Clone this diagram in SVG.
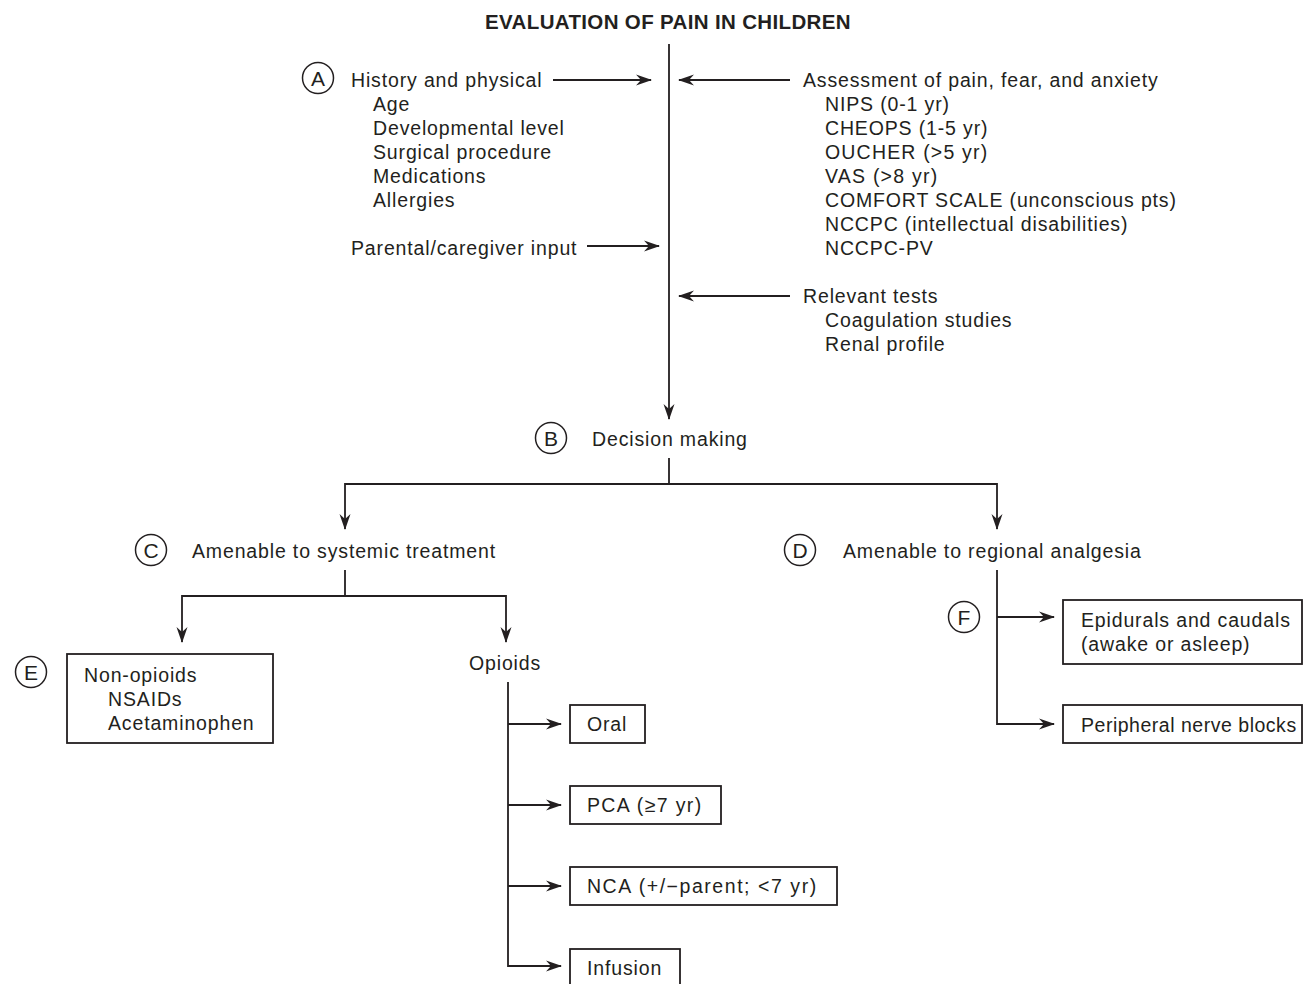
<svg xmlns="http://www.w3.org/2000/svg" width="1304" height="984" viewBox="0 0 1304 984">
  <style>
    text { font-family: "Liberation Sans", Arial, sans-serif; font-size: 19.5px; letter-spacing: 0.85px; fill: #231f20; }
    .title { font-weight: bold; font-size: 20.5px; letter-spacing: 0.35px; text-anchor: middle; }
    .badge circle { fill: none; stroke: #231f20; stroke-width: 1.5; }
    .badge text { text-anchor: middle; font-size: 21px; letter-spacing: 0; }
    .box { fill: #fff; stroke: #231f20; stroke-width: 1.8; }
    .wire { fill: none; stroke: #231f20; stroke-width: 1.8; }
    .arrow { marker-end: url(#head); }
  </style>
  <defs>
    <marker id="head" markerUnits="userSpaceOnUse" markerWidth="16" markerHeight="12" viewBox="0 0 16 12" refX="15" refY="6" orient="auto">
      <path d="M0,0.5 L16,6 L0,11.5 L5,6 z" fill="#231f20"/>
    </marker>
  </defs>

  <text class="title" x="668" y="29">EVALUATION OF PAIN IN CHILDREN</text>

  <g id="connectors">
    <!-- main evaluation spine -->
    <line class="wire arrow" x1="669" y1="44" x2="669" y2="419"/>
    <line class="wire arrow" x1="553" y1="80" x2="651" y2="80"/>
    <line class="wire arrow" x1="587" y1="246" x2="659" y2="246"/>
    <line class="wire arrow" x1="790" y1="80" x2="679" y2="80"/>
    <line class="wire arrow" x1="790" y1="296" x2="679" y2="296"/>
    <!-- decision split -->
    <polyline class="wire" points="669,458 669,484"/>
    <polyline class="wire arrow" points="669,484 345,484 345,529"/>
    <polyline class="wire arrow" points="669,484 997,484 997,529"/>
    <!-- systemic split -->
    <polyline class="wire" points="345,570 345,596"/>
    <polyline class="wire arrow" points="345,596 182,596 182,642"/>
    <polyline class="wire arrow" points="345,596 506,596 506,642"/>
    <!-- opioid routes -->
    <polyline class="wire arrow" points="508,682 508,966 561,966"/>
    <line class="wire arrow" x1="508" y1="724" x2="561" y2="724"/>
    <line class="wire arrow" x1="508" y1="805" x2="561" y2="805"/>
    <line class="wire arrow" x1="508" y1="886" x2="561" y2="886"/>
    <!-- regional routes -->
    <polyline class="wire arrow" points="997,570 997,724 1054,724"/>
    <line class="wire arrow" x1="997" y1="617" x2="1054" y2="617"/>
  </g>

  <g id="node-history">
    <g class="badge"><circle cx="318" cy="78" r="15.5"/><text x="318" y="85.5">A</text></g>
    <text x="351" y="87">History and physical</text>
    <text x="373" y="111">Age</text>
    <text x="373" y="135">Developmental level</text>
    <text x="373" y="159">Surgical procedure</text>
    <text x="373" y="183">Medications</text>
    <text x="373" y="207">Allergies</text>
  </g>

  <g id="node-parental">
    <text x="351" y="255">Parental/caregiver input</text>
  </g>

  <g id="node-assessment">
    <text x="803" y="87">Assessment of pain, fear, and anxiety</text>
    <text x="825" y="111">NIPS (0-1 yr)</text>
    <text x="825" y="135">CHEOPS (1-5 yr)</text>
    <text x="825" y="159" textLength="163">OUCHER (&gt;5 yr)</text>
    <text x="825" y="183" textLength="113">VAS (&gt;8 yr)</text>
    <text x="825" y="207">COMFORT SCALE (unconscious pts)</text>
    <text x="825" y="231">NCCPC (intellectual disabilities)</text>
    <text x="825" y="255">NCCPC-PV</text>
  </g>

  <g id="node-tests">
    <text x="803" y="303">Relevant tests</text>
    <text x="825" y="327">Coagulation studies</text>
    <text x="825" y="351">Renal profile</text>
  </g>

  <g id="node-decision">
    <g class="badge"><circle cx="551" cy="438" r="15.5"/><text x="551" y="445.5">B</text></g>
    <text x="592" y="446">Decision making</text>
  </g>

  <g id="node-systemic">
    <g class="badge"><circle cx="151" cy="550" r="15.5"/><text x="151" y="557.5">C</text></g>
    <text x="192" y="558">Amenable to systemic treatment</text>
  </g>

  <g id="node-regional">
    <g class="badge"><circle cx="800" cy="550" r="15.5"/><text x="800" y="557.5">D</text></g>
    <text x="843" y="558">Amenable to regional analgesia</text>
  </g>

  <g id="node-nonopioids">
    <g class="badge"><circle cx="31" cy="672" r="15.5"/><text x="31" y="679.5">E</text></g>
    <rect class="box" x="67" y="654" width="206" height="89"/>
    <text x="84" y="682">Non-opioids</text>
    <text x="108" y="706">NSAIDs</text>
    <text x="108" y="730">Acetaminophen</text>
  </g>

  <g id="node-opioids">
    <text x="469" y="670">Opioids</text>
  </g>

  <g id="node-oral">
    <rect class="box" x="570" y="705" width="75" height="38"/>
    <text x="587" y="731">Oral</text>
  </g>

  <g id="node-pca">
    <rect class="box" x="570" y="786" width="151" height="38"/>
    <text x="587" y="812" textLength="115">PCA (≥7 yr)</text>
  </g>

  <g id="node-nca">
    <rect class="box" x="570" y="867" width="267" height="38"/>
    <text x="587" y="893" textLength="230">NCA (+/−parent; &lt;7 yr)</text>
  </g>

  <g id="node-infusion">
    <rect class="box" x="570" y="949" width="110" height="40"/>
    <text x="587" y="975">Infusion</text>
  </g>

  <g id="node-epidurals">
    <g class="badge"><circle cx="964" cy="617" r="15.5"/><text x="964" y="624.5">F</text></g>
    <rect class="box" x="1063" y="600" width="239" height="64"/>
    <text x="1081" y="627">Epidurals and caudals</text>
    <text x="1081" y="651">(awake or asleep)</text>
  </g>

  <g id="node-peripheral">
    <rect class="box" x="1063" y="705" width="239" height="38"/>
    <text x="1081" y="732" textLength="216">Peripheral nerve blocks</text>
  </g>
</svg>
